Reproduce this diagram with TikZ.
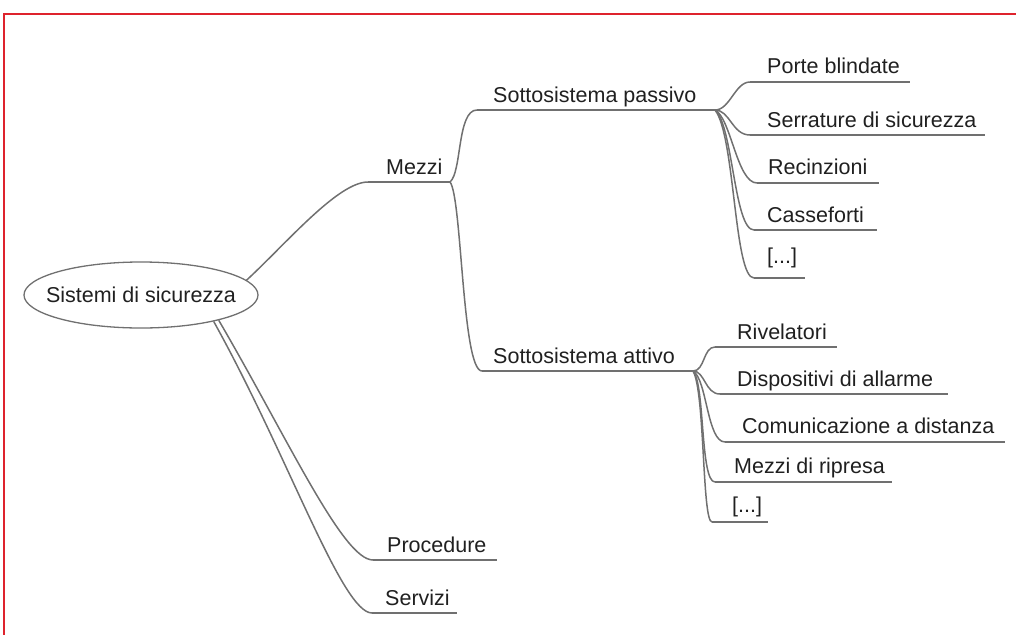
\documentclass[tikz,border=0pt]{standalone}
\usepackage{fontspec}
\setmainfont{Liberation Sans}
\usetikzlibrary{shapes.geometric}
\definecolor{framered}{RGB}{222,35,45}
\definecolor{linegray}{RGB}{112,112,112}
\definecolor{textgray}{RGB}{32,32,32}
\tikzset{
  topic/.style={anchor=base west, inner sep=0pt, text=textgray},
  branch/.style={draw=linegray, line width=1.5pt},
  rootnode/.style={ellipse, draw=linegray, line width=1.3pt, minimum width=234pt, minimum height=66pt,
    inner xsep=-14pt, inner ysep=0pt, text=textgray},
}
% name, text x, baseline, underline y, underline from, underline to, text
\newcommand{\topicline}[7]{%
  \node[topic] (#1) at (#2,#3) {#7};
  \coordinate (#1-l) at (#5,#4);
  \coordinate (#1-r) at (#6,#4);
  \draw[branch] (#1-l) -- (#1-r);
}

\begin{document}
\begin{tikzpicture}[x=1pt, y=-1pt, font=\fontsize{21.5}{26}\selectfont]
            \useasboundingbox (0,0) rectangle (1016,635);
            \draw[framered, line width=1.5pt] (1016,14) -- (4,14) -- (4,635);
            \node[rootnode] (root) at (141,295) {Sistemi di sicurezza};
            \topicline{mezzi}{386}{174}{182}{368}{450}{Mezzi}
            \topicline{passivo}{493}{102}{110}{477}{715}{Sottosistema passivo}
            \topicline{attivo}{493}{363}{371}{482}{693}{Sottosistema attivo}
            \topicline{procedure}{387}{552}{560}{373}{497}{Procedure}
            \topicline{servizi}{385}{605}{613}{372}{457}{Servizi}
            % sottosistema passivo
            \topicline{porte}{767}{73}{82}{750}{910}{Porte blindate}
            \topicline{serrature}{767}{127}{135}{750}{985}{Serrature di sicurezza}
            \topicline{recinzioni}{768}{174}{183}{757}{879}{Recinzioni}
            \topicline{casseforti}{767}{222}{230}{754}{877}{Casseforti}
            \topicline{altrip}{767}{263}{278}{754}{805}{[...]}
            % sottosistema attivo
            \topicline{rivelatori}{737}{339}{347}{715}{837}{Rivelatori}
            \topicline{dispositivi}{737}{386}{394}{720}{948}{Dispositivi di allarme}
            \topicline{comunicazione}{742}{433}{442}{725}{1005}{Comunicazione a distanza}
            \topicline{ripresa}{734}{473}{482}{715}{892}{Mezzi di ripresa}
            \topicline{altria}{732}{512}{522}{712}{768}{[...]}
            % rami
            \draw[branch] (root.8) .. controls +(40,-37) and +(-30,0) .. (mezzi-l);
            \draw[branch] (root.-18) .. controls +(70,120) and +(-30,0) .. (procedure-l);
            \draw[branch] (root.-20) .. controls +(75,135) and +(-30,0) .. (servizi-l);
            \draw[branch] (mezzi-r) .. controls +(12,-10) and +(-20,0) .. (passivo-l);
            \draw[branch] (mezzi-r) .. controls +(12,15) and +(-20,0) .. (attivo-l);
            \draw[branch] (passivo-r) .. controls +(15,0) and +(-15,0) .. (porte-l);
            \draw[branch] (passivo-r) .. controls +(15,0) and +(-18,0) .. (serrature-l);
            \draw[branch] (passivo-r) .. controls +(16,8) and +(-20,0) .. (recinzioni-l);
            \draw[branch] (passivo-r) .. controls +(18,15) and +(-20,0) .. (casseforti-l);
            \draw[branch] (passivo-r) .. controls +(20,25) and +(-20,0) .. (altrip-l);
            \draw[branch] (attivo-r) .. controls +(12,0) and +(-12,0) .. (rivelatori-l);
            \draw[branch] (attivo-r) .. controls +(12,0) and +(-15,0) .. (dispositivi-l);
            \draw[branch] (attivo-r) .. controls +(14,8) and +(-18,0) .. (comunicazione-l);
            \draw[branch] (attivo-r) .. controls +(12,12) and +(-15,0) .. (ripresa-l);
            \draw[branch] (attivo-r) .. controls +(12,20) and +(-10,0) .. (altria-l);
        \end{tikzpicture}
\end{document}
